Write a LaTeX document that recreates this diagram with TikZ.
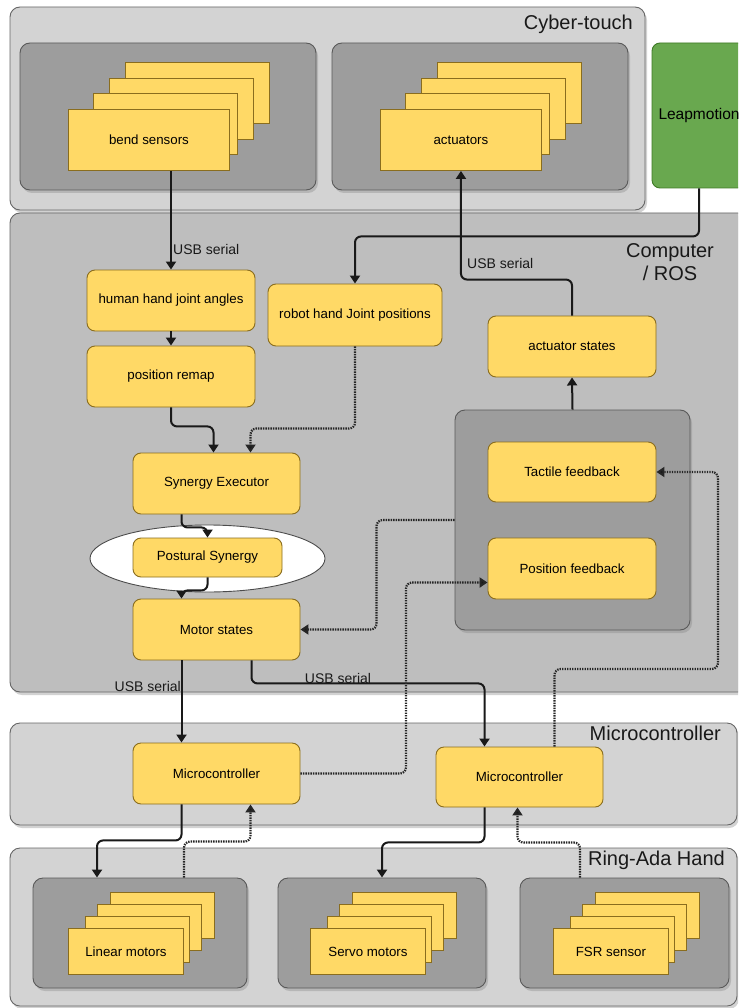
\documentclass[tikz,border=0pt]{standalone}
\usepackage{fontspec}
\setmainfont{Liberation Sans}
\usetikzlibrary{arrows.meta,shapes.geometric,shadows}

\definecolor{panel}{HTML}{D3D3D3}
\definecolor{hostpanel}{HTML}{BEBEBE}
\definecolor{groupbox}{HTML}{9D9D9D}
\definecolor{unit}{HTML}{FFD966}
\definecolor{unitline}{HTML}{8A6D1E}
\definecolor{leapfill}{HTML}{69A84F}
\definecolor{leapline}{HTML}{3F7A26}

\newcommand\unitfont{\fontsize{13.3}{15}\selectfont}
\newcommand\usbfont{\fontsize{14}{16}\selectfont}
\newcommand\paneltitlefont{\fontsize{20}{22}\selectfont}

\tikzset{
  panelbox/.style={draw=black!60, line width=0.9pt, fill=panel, rounded corners=10pt,
    inner sep=0pt, drop shadow={shadow xshift=2pt, shadow yshift=-3pt, opacity=0.35}},
  hostbox/.style={panelbox, fill=hostpanel},
  groupframe/.style={draw=black!65, line width=0.9pt, fill=groupbox, rounded corners=10pt,
    inner sep=0pt, drop shadow={shadow xshift=2pt, shadow yshift=-3pt, opacity=0.35}},
  unitbox/.style={draw=unitline, line width=0.9pt, fill=unit, rounded corners=8pt,
    inner sep=0pt, font=\unitfont, text=black, align=center},
  cardbox/.style={draw=unitline, line width=0.9pt, fill=unit, inner sep=0pt,
    font=\unitfont, text=black},
  leapbox/.style={draw=leapline, line width=0.9pt, fill=leapfill, rounded corners=8pt,
    inner sep=0pt, font=\fontsize{15.5}{17}\selectfont, text=black},
  halo/.style={ellipse, draw=black!70, line width=0.9pt, fill=white, inner sep=0pt},
  paneltitle/.style={inner sep=0pt, font=\paneltitlefont, text=black!90, align=center},
  usblabel/.style={inner sep=0pt, font=\usbfont, text=black!90},
  arr/.style={draw=black!90, line width=2pt, rounded corners=6pt,
    -{Triangle[length=8pt,width=10pt]}},
  darr/.style={draw=black!85, line width=2.2pt, dash pattern=on 1.4pt off 1.1pt,
    rounded corners=6pt, -{Triangle[length=8pt,width=10pt,fill=black!90]}},
}

\begin{document}
\begin{tikzpicture}[x=1pt, y=-1pt]
\clip (0,0) rectangle (738,1008);
\fill[white] (0,0) rectangle (738,1008);

% ---------- outer panels ----------
\node[panelbox, minimum width=635, minimum height=203] (cyber) at (327.5,108.5) {};
\node[hostbox, minimum width=738, minimum height=479] (comp) at (379,452.5) {};
\node[panelbox, minimum width=727, minimum height=102] (micro) at (373.5,774) {};
\node[panelbox, minimum width=727, minimum height=158] (ring) at (373.5,927) {};

\node[paneltitle, anchor=east] (cybert) at (633,24) {Cyber-touch};
\node[paneltitle] (compt) at (670,262) {Computer\\[1pt] / ROS};
\node[paneltitle, anchor=east] (microt) at (721,733) {Microcontroller};
\node[paneltitle, anchor=east] (ringt) at (725,860) {Ring-Ada Hand};

% ---------- group frames ----------
\node[groupframe, minimum width=296, minimum height=147] (bendbox) at (168,116.5) {};
\node[groupframe, minimum width=296, minimum height=147] (actbox) at (480,116.5) {};
\node[groupframe, minimum width=235, minimum height=220] (fb) at (572.5,520) {};
\node[groupframe, minimum width=214, minimum height=110] (lin) at (140,933) {};
\node[groupframe, minimum width=208, minimum height=110] (srv) at (382,933) {};
\node[groupframe, minimum width=209, minimum height=110] (fsrbox) at (624.5,933) {};

\node[leapbox, minimum width=94, minimum height=145] (leap) at (699,115.5) {Leapmotion};

% ---------- card stacks (three back cards, then the labelled front card) ----------
\foreach \i in {3,2,1}
  \draw[cardbox] ({68+25+(\i-1)*16}, {109-\i*15.5}) rectangle ++(144,61);
\node[cardbox, anchor=north west, minimum width=161, minimum height=61] (bend) at (68,109) {bend sensors};

\foreach \i in {3,2,1}
  \draw[cardbox] ({380+25+(\i-1)*16}, {109-\i*15.5}) rectangle ++(144,61);
\node[cardbox, anchor=north west, minimum width=161, minimum height=61] (act) at (380,109) {actuators};

\foreach \i in {3,2,1}
  \draw[cardbox] ({68+17+(\i-1)*12.5}, {928-\i*11.7}) rectangle ++(104,46);
\node[cardbox, anchor=north west, minimum width=115, minimum height=46] (linm) at (68,928) {Linear motors};

\foreach \i in {3,2,1}
  \draw[cardbox] ({310+17+(\i-1)*12.5}, {928-\i*11.7}) rectangle ++(104,46);
\node[cardbox, anchor=north west, minimum width=115, minimum height=46] (servo) at (310,928) {Servo motors};

\foreach \i in {3,2,1}
  \draw[cardbox] ({553+17+(\i-1)*12.5}, {928-\i*11.7}) rectangle ++(104,46);
\node[cardbox, anchor=north west, minimum width=115, minimum height=46] (fsr) at (553,928) {FSR sensor};

% ---------- processing units ----------
\node[unitbox, minimum width=168, minimum height=61] (hh) at (171,300.5) {human hand joint angles};
\node[unitbox, minimum width=168, minimum height=61] (pr) at (171,376.5) {position remap};
\node[unitbox, minimum width=174, minimum height=62] (rh) at (355,315) {robot hand Joint positions};
\node[unitbox, minimum width=168, minimum height=61] (ast) at (572,346.5) {actuator states};
\node[unitbox, minimum width=168, minimum height=60] (tfb) at (572,472) {Tactile feedback};
\node[unitbox, minimum width=168, minimum height=61] (pfb) at (572,568.5) {Position feedback};
\node[unitbox, minimum width=167, minimum height=61] (se) at (216.5,483.5) {Synergy Executor};
\node[halo, minimum width=235, minimum height=67] (syn) at (207.5,558.5) {};
\node[unitbox, minimum width=149, minimum height=39] (ps) at (207.5,557.5) {Postural Synergy};
\node[unitbox, minimum width=167, minimum height=61] (ms) at (216.5,629.5) {Motor states};
\node[unitbox, minimum width=167, minimum height=61] (mc1) at (216.5,773.5) {Microcontroller};
\node[unitbox, minimum width=167, minimum height=60] (mc2) at (519.5,777) {Microcontroller};

% ---------- connectors ----------
\draw[arr] (hh.north |- bend.south) -- (hh.north);
\node[usblabel, anchor=west] (usb1) at (173,249) {USB serial};

\draw[arr] (leap.south) -- ++(0,48) -| (rh.north);

\draw[arr] (ast.north) -- ++(0,-36) -| (act.south);
\node[usblabel, anchor=west] (usb2) at (467,263) {USB serial};

\draw[arr] (fb.north) -- (ast.south);
\draw[arr] (hh.south) -- (pr.north);
\draw[arr] (pr.south) -- ++(0,19) -| ([xshift=-3pt]se.north);
\draw[darr] (rh.south) -- ++(0,82) -| ([xshift=34pt]se.north);
\draw[arr] ([xshift=-35pt]se.south) -- ++(0,13) -| (ps.north);
\draw[arr] (ps.south) -- ++(0,13) -| ([xshift=-35pt]ms.north);
\draw[darr] (fb.west) -- ++(-78,0) |- (ms.east);

\draw[arr] ([xshift=-35pt]ms.south) -- ([xshift=-35pt]mc1.north);
\node[usblabel, anchor=east] (usb3) at (181,686) {USB serial};
\draw[arr] ([xshift=35pt]ms.south) -- ++(0,23) -| ([xshift=-35pt]mc2.north);
\node[usblabel] (usb4) at (338,678) {USB serial};

\draw[darr] (mc1.east) -- (406,773.5) |- ([yshift=-14pt]pfb.west);
\draw[darr] ([xshift=35pt]mc2.north) |- (718,669) |- (tfb.east);

\draw[arr] ([xshift=-35pt]mc1.south) -- ++(0,36) -| ([xshift=-43pt]lin.north);
\draw[darr] ([xshift=44pt]lin.north) -- ++(0,-36) -| ([xshift=34pt]mc1.south);
\draw[arr] ([xshift=-35pt]mc2.south) -- ++(0,35) -| (srv.north);
\draw[darr] ([xshift=-44.5pt]fsrbox.north) -- ++(0,-35) -| ([xshift=-2pt]mc2.south);
\end{tikzpicture}
\end{document}
